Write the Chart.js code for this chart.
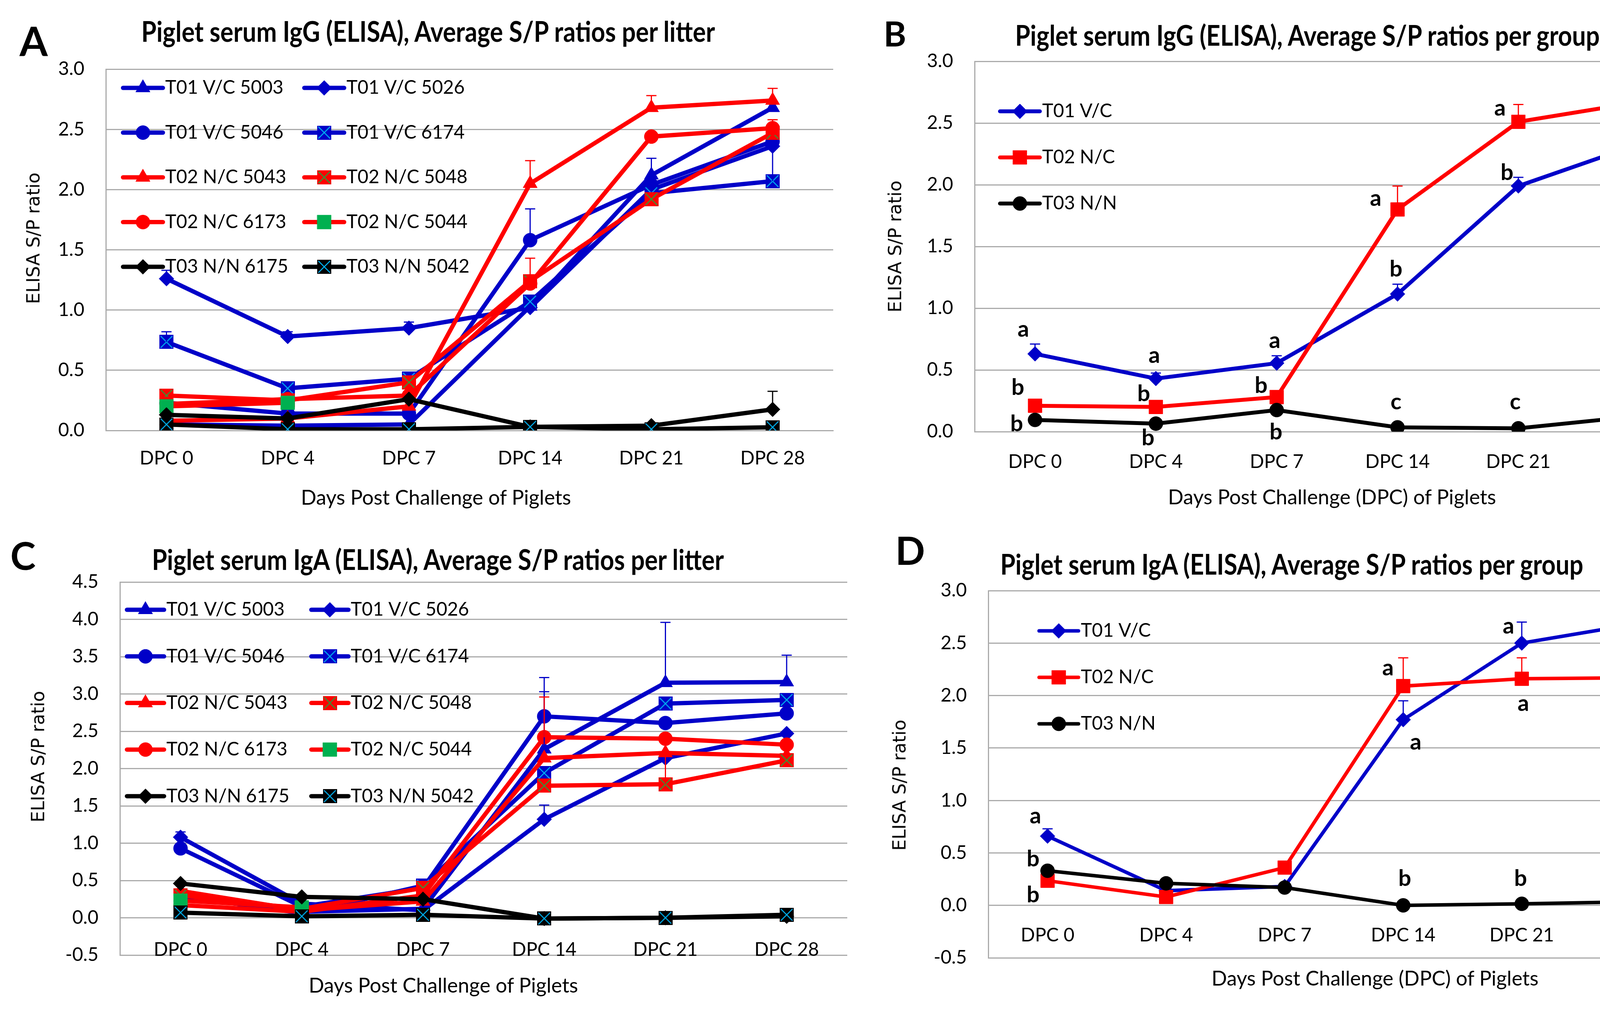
<!DOCTYPE html>
<html><head><meta charset="utf-8">
<script src="https://cdn.jsdelivr.net/npm/chart.js@4.4.1/dist/chart.umd.min.js"></script>
<style>
html,body{margin:0;padding:0;background:#fff;}
#page{position:relative;width:4394px;height:2583px;overflow:hidden;background:#fff;}
canvas{position:absolute;}
.txt{position:absolute;white-space:nowrap;color:#000;transform:translate(-50%,-50%);line-height:1;}
.ttl{font-family:Lato,sans-serif;font-weight:700;transform:translate(-50%,-50%) scaleY(1.15);}
.pl{font-family:Lato,sans-serif;font-weight:700;}
.xt{font-family:Lato,sans-serif;}
.yt{font-family:'DejaVu Sans',sans-serif;transform:translate(-50%,-50%) rotate(-90deg);}
</style></head>
<body><div id="page"></div>
<script>
// ---------------- DATA ----------------
const categories = ['DPC 0','DPC 4','DPC 7','DPC 14','DPC 21','DPC 28'];
const litterLabels = ['T01 V/C 5003','T01 V/C 5026','T01 V/C 5046','T01 V/C 6174','T02 N/C 5043','T02 N/C 5048','T02 N/C 6173','T02 N/C 5044','T03 N/N 6175','T03 N/N 5042'];
const groupLabels = ['T01 V/C','T02 N/C','T03 N/N'];

// Panel A: IgG per litter
const igG_5003 = [0.05, 0.04, 0.05, 1.03, 2.12, 2.68];
const igG_5026 = [1.26, 0.78, 0.85, 1.02, 2.00, 2.36];
const igG_5046 = [0.23, 0.14, 0.14, 1.58, 2.04, 2.40];
const igG_6174 = [0.735, 0.35, 0.43, 1.07, 1.97, 2.07];
const igG_5043 = [0.08, 0.10, 0.20, 2.05, 2.68, 2.74];
const igG_5048 = [0.29, 0.25, 0.40, 1.24, 1.92, 2.47];
const igG_6173 = [0.22, 0.26, 0.29, 1.22, 2.44, 2.51];
const igG_5044 = [0.20, 0.23, null, null, null, null];
const igG_6175 = [0.13, 0.10, 0.26, 0.03, 0.04, 0.175];
const igG_5042 = [0.05, 0.01, 0.01, 0.03, 0.01, 0.027];
const igGErr_5003 = [0, 0, 0, 0, 0.14, 0];
const igGErr_5026 = [0.07, 0.04, 0.05, 0, 0, 0];
const igGErr_5046 = [0, 0, 0, 0.26, 0, 0];
const igGErr_6174 = [0.085, 0, 0, 0, 0, 0.29];
const igGErr_5043 = [0, 0, 0, 0.19, 0.10, 0.10];
const igGErr_5048 = [0, 0, 0, 0.19, 0, 0];
const igGErr_6173 = [0, 0, 0, 0, 0, 0.07];
const igGErr_6175 = [0, 0, 0, 0, 0, 0.15];

// Panel B: IgG per group
const igGGroup_T01 = [0.63, 0.43, 0.555, 1.115, 1.99, 2.33];
const igGGroup_T02 = [0.21, 0.20, 0.28, 1.80, 2.51, 2.67];
const igGGroup_T03 = [0.095, 0.065, 0.175, 0.035, 0.027, 0.127];
const igGGroupErr_T01 = [0.08, 0.045, 0.06, 0.08, 0.07, 0.09];
const igGGroupErr_T02 = [0.02, 0.05, 0.02, 0.19, 0.14, 0.08];
const igGGroupErr_T03 = [0.01, 0.01, 0.01, 0.01, 0.01, 0.10];
const igGLetters_T01 = ['a','a','a','b','b','a'];
const igGLetters_T02 = ['b','b','b','a','a','a'];
const igGLetters_T03 = ['b','b','b','c','c','b'];

// Panel C: IgA per litter
const igA_5003 = [0.28, 0.08, 0.12, 2.26, 3.15, 3.16];
const igA_5026 = [1.08, 0.19, 0.10, 1.32, 2.14, 2.47];
const igA_5046 = [0.93, 0.15, 0.40, 2.70, 2.61, 2.74];
const igA_6174 = [0.30, 0.06, 0.43, 1.94, 2.87, 2.92];
const igA_5043 = [0.36, 0.10, 0.22, 2.14, 2.21, 2.17];
const igA_5048 = [0.30, 0.12, 0.40, 1.77, 1.79, 2.11];
const igA_6173 = [0.17, 0.08, 0.30, 2.42, 2.40, 2.32];
const igA_5044 = [0.23, 0.14, null, null, null, null];
const igA_6175 = [0.46, 0.28, 0.25, -0.01, 0.00, 0.02];
const igA_5042 = [0.07, 0.02, 0.04, -0.01, 0.00, 0.04];
const igAErr_5003 = [0, 0, 0, 0.77, 0.81, 0.36];
const igAErr_5026 = [0.07, 0, 0, 0.19, 0, 0];
const igAErr_5046 = [0, 0, 0, 0.52, 0, 0];
const igAErr_5048 = [0, 0, 0, 0, 0.60, 0];
const igAErr_6173 = [0, 0, 0, 0.54, 0, 0];

// Panel D: IgA per group
const igAGroup_T01 = [0.66, 0.14, 0.18, 1.77, 2.50, 2.69];
const igAGroup_T02 = [0.235, 0.08, 0.36, 2.09, 2.16, 2.17];
const igAGroup_T03 = [0.33, 0.21, 0.17, 0.00, 0.015, 0.035];
const igAGroupErr_T01 = [0.07, 0, 0, 0.18, 0.20, 0.14];
const igAGroupErr_T02 = [0, 0, 0, 0.27, 0.20, 0.16];
const igALetters_T01 = ['a','','','a','a','a'];
const igALetters_T02 = ['b','','','a','a','a'];
const igALetters_T03 = ['b','','','b','b','b'];

// ---------------- STYLE / LAYOUT ----------------
const BLUE = '#0000c8', RED = '#ff0000', BLACK = '#000000', GREEN = '#00b050', CYAN = '#00b0f0', XGREEN = '#2e9a3a';
const GRID = '#ababab';
const FONT = 'Lato';

function makeXSquare(fill, xColor, side){
  const c = document.createElement('canvas');
  c.width = side; c.height = side;
  const g = c.getContext('2d');
  g.fillStyle = fill; g.fillRect(0,0,side,side);
  g.strokeStyle = xColor; g.lineWidth = 2.5;
  g.beginPath(); g.moveTo(3,3); g.lineTo(side-3,side-3); g.moveTo(side-3,3); g.lineTo(3,side-3); g.stroke();
  return c;
}
const blueX = makeXSquare(BLUE, CYAN, 36);
const redX = makeXSquare(RED, XGREEN, 36);
const blackX = makeXSquare(BLACK, CYAN, 36);

const litterStyles = [
  {color:BLUE, point:'triangle', r:21},
  {color:BLUE, point:'rectRot', r:19},
  {color:BLUE, point:'circle', r:18},
  {color:BLUE, point:blueX, r:18},
  {color:RED, point:'triangle', r:21},
  {color:RED, point:redX, r:18},
  {color:RED, point:'circle', r:18},
  {color:RED, point:'rect', r:25, pointColor:GREEN},
  {color:BLACK, point:'rectRot', r:19},
  {color:BLACK, point:blackX, r:18}
];
const groupStyles = [
  {color:BLUE, point:'rectRot', r:19},
  {color:RED, point:'rect', r:25},
  {color:BLACK, point:'circle', r:18}
];

// letter offsets (pixels from the point) for panels B and D
const bLetterOffsets = [
  [[-30,-63],[-4,-59],[-5,-57],[-4,-63],[-29,-34],[64,10]],
  [[-44,-46],[-31,-34],[-40,-29],[-56,-28],[-47,-35],[-6,-61]],
  [[-47,10],[-20,37],[-2,57],[-4,-65],[-8,-67],[19,-73]]
];
const dLetterOffsets = [
  [[-31,-51],[0,0],[0,0],[32,58],[-34,-43],[-30,-31]],
  [[-37,37],[0,0],[0,0],[-39,-46],[4,64],[16,72]],
  [[-37,-30],[0,0],[0,0],[4,-68],[-3,-64],[-1,-63]]
];

function buildDatasets(seriesList, labels, styles, errs, lineWidth, letters, offsets){
  const n = seriesList.length;
  return seriesList.map((vals, i) => {
    const s = styles[i];
    const ds = {
      label: labels[i], data: vals,
      borderColor: s.color, backgroundColor: s.color,
      borderWidth: lineWidth, tension: 0, spanGaps: false,
      pointStyle: s.point, pointRadius: s.r, pointHoverRadius: s.r,
      pointBackgroundColor: s.pointColor || s.color, pointBorderColor: s.pointColor || s.color,
      pointBorderWidth: 1, order: n - i
    };
    if (errs && errs[i]) ds.errUp = errs[i];
    if (letters && letters[i]) { ds.sigLetters = letters[i]; ds.sigOffsets = offsets[i]; }
    return ds;
  });
}

const errorBarPlugin = {
  id: 'errorBars',
  afterDatasetsDraw(chart){
    const ctx = chart.ctx, ys = chart.scales.y;
    chart.data.datasets.forEach((ds, di) => {
      if (!ds.errUp) return;
      const meta = chart.getDatasetMeta(di);
      ctx.save(); ctx.strokeStyle = ds.borderColor; ctx.lineWidth = 3;
      ds.errUp.forEach((e, i) => {
        const v = ds.data[i];
        if (v == null || !e) return;
        const x = meta.data[i].x, y0 = ys.getPixelForValue(v), y1 = ys.getPixelForValue(v + e);
        ctx.beginPath(); ctx.moveTo(x, y0); ctx.lineTo(x, y1);
        ctx.moveTo(x - 13, y1); ctx.lineTo(x + 13, y1); ctx.stroke();
      });
      ctx.restore();
    });
  }
};
const letterPlugin = {
  id: 'sigLetters',
  afterDatasetsDraw(chart){
    const ctx = chart.ctx;
    ctx.save();
    ctx.font = 'bold 58px ' + FONT; ctx.fillStyle = '#000';
    ctx.textAlign = 'center'; ctx.textBaseline = 'middle';
    chart.data.datasets.forEach((ds, di) => {
      if (!ds.sigLetters) return;
      const meta = chart.getDatasetMeta(di);
      ds.sigLetters.forEach((t, i) => {
        if (!t) return;
        const p = meta.data[i]; const o = ds.sigOffsets[i];
        ctx.fillText(t, p.x + o[0], p.y + o[1]);
      });
    });
    ctx.restore();
  }
};
const legendPlugin = {
  id: 'plotLegend',
  afterDraw(chart, args, opts){
    const ctx = chart.ctx;
    ctx.save();
    ctx.font = '48px ' + FONT; ctx.textBaseline = 'middle'; ctx.textAlign = 'left'; ctx.fillStyle = '#000';
    chart.data.datasets.forEach((ds, i) => {
      const col = i % opts.cols.length, row = Math.floor(i / opts.cols.length);
      const x = opts.cols[col] - opts.ox, y = opts.y0 + row * opts.dy - opts.oy;
      ctx.strokeStyle = ds.borderColor; ctx.lineWidth = ds.borderWidth; ctx.lineCap = 'round';
      ctx.beginPath(); ctx.moveTo(x, y); ctx.lineTo(x + opts.len, y); ctx.stroke();
      ctx.fillStyle = ds.pointBackgroundColor; ctx.strokeStyle = ds.pointBorderColor; ctx.lineWidth = 1;
      Chart.helpers.drawPoint(ctx, {pointStyle: ds.pointStyle, rotation: 0, radius: ds.pointRadius, borderWidth: 1}, x + opts.len / 2, y);
      ctx.fillStyle = '#000';
      ctx.fillText(ds.label, x + opts.len + 6, y);
    });
    ctx.restore();
  }
};

const page = document.getElementById('page');
function makeChart(p){
  const cv = document.createElement('canvas');
  cv.width = p.box.w; cv.height = p.box.h;
  cv.style.left = p.box.x + 'px'; cv.style.top = p.box.y + 'px';
  cv.style.width = p.box.w + 'px'; cv.style.height = p.box.h + 'px';
  page.appendChild(cv);
  const yW = 150, xH = p.atZero ? 0 : 150;
  const a = p.area;
  new Chart(cv, {
    type: 'line',
    data: {labels: categories, datasets: p.datasets},
    options: {
      responsive: false, animation: false, devicePixelRatio: 1,
      layout: {padding: {left: a.l - p.box.x - yW, top: a.t - p.box.y, right: p.box.x + p.box.w - a.r, bottom: p.box.y + p.box.h - a.b - xH}},
      plugins: {legend: {display: false}, tooltip: {enabled: false},
        plotLegend: Object.assign({ox: p.box.x, oy: p.box.y}, p.legend)},
      scales: {
        x: {type: 'category', offset: true, position: p.atZero ? {y: 0} : 'bottom',
          grid: {display: false, drawTicks: false},
          border: {display: !p.atZero, color: GRID, width: 3},
          ticks: {font: {family: FONT, size: 48}, color: '#000', padding: p.xPad, autoSkip: false, maxRotation: 0},
          afterFit(s){ s.height = xH; }},
        y: {min: p.yMin, max: p.yMax,
          ticks: {stepSize: 0.5, callback: v => v.toFixed(1), padding: 55, font: {family: FONT, size: 48}, color: '#000'},
          grid: {color: GRID, lineWidth: 3, drawTicks: false},
          border: {display: true, color: GRID, width: 3},
          afterFit(s){ s.width = yW; }}
      }
    },
    plugins: [errorBarPlugin, letterPlugin, legendPlugin]
  });
}

function addText(text, cls, x, y, size, target){
  const el = document.createElement('div');
  el.className = 'txt ' + cls; el.textContent = text;
  el.style.left = x + 'px'; el.style.top = y + 'px'; el.style.fontSize = size + 'px';
  page.appendChild(el);
  if (target) { const w = el.offsetWidth; el.style.fontSize = (size * target / w) + 'px'; }
}

// Panel A
makeChart({
  box: {x:0, y:0, w:2197, h:1300}, area: {l:271, t:177, r:2133, b:1102},
  yMin: 0, yMax: 3, atZero: false, xPad: 43,
  datasets: buildDatasets([igG_5003, igG_5026, igG_5046, igG_6174, igG_5043, igG_5048, igG_6173, igG_5044, igG_6175, igG_5042],
    litterLabels, litterStyles,
    [igGErr_5003, igGErr_5026, igGErr_5046, igGErr_6174, igGErr_5043, igGErr_5048, igGErr_6173, null, igGErr_6175, null], 11),
  legend: {cols: [315, 779], len: 102, y0: 225, dy: 114.5}
});
// Panel B
makeChart({
  box: {x:2197, y:0, w:2197, h:1300}, area: {l:2495, t:157, r:4351, b:1105},
  yMin: 0, yMax: 3, atZero: false, xPad: 49,
  datasets: buildDatasets([igGGroup_T01, igGGroup_T02, igGGroup_T03], groupLabels, groupStyles,
    [igGGroupErr_T01, igGGroupErr_T02, igGGroupErr_T03], 10,
    [igGLetters_T01, igGLetters_T02, igGLetters_T03], bLetterOffsets),
  legend: {cols: [2560], len: 102, y0: 285, dy: 118}
});
// Panel C
makeChart({
  box: {x:0, y:1300, w:2197, h:1283}, area: {l:307, t:1490, r:2169, b:2445},
  yMin: -0.5, yMax: 4.5, atZero: true, xPad: 53,
  datasets: buildDatasets([igA_5003, igA_5026, igA_5046, igA_6174, igA_5043, igA_5048, igA_6173, igA_5044, igA_6175, igA_5042],
    litterLabels, litterStyles,
    [igAErr_5003, igAErr_5026, igAErr_5046, null, null, igAErr_5048, igAErr_6173, null, null, null], 11),
  legend: {cols: [325, 797], len: 95, y0: 1561, dy: 119.3}
});
// Panel D
makeChart({
  box: {x:2197, y:1300, w:2197, h:1283}, area: {l:2530, t:1512, r:4351, b:2452},
  yMin: -0.5, yMax: 3, atZero: true, xPad: 48,
  datasets: buildDatasets([igAGroup_T01, igAGroup_T02, igAGroup_T03], groupLabels, groupStyles,
    [igAGroupErr_T01, igAGroupErr_T02, null], 9,
    [igALetters_T01, igALetters_T02, igALetters_T03], dLetterOffsets),
  legend: {cols: [2660], len: 101, y0: 1615, dy: 119}
});

// Text
addText('A', 'pl', 86, 103, 104);
addText('B', 'pl', 2291, 85, 88);
addText('C', 'pl', 59, 1421, 98);
addText('D', 'pl', 2330, 1407, 100);
addText('Piglet serum IgG (ELISA), Average S/P ratios per litter', 'ttl', 1096, 80, 52, 1469);
addText('Piglet serum IgG (ELISA), Average S/P ratios per group', 'ttl', 3347, 90, 52, 1497);
addText('Piglet serum IgA (ELISA), Average S/P ratios per litter', 'ttl', 1121, 1432, 52, 1465);
addText('Piglet serum IgA (ELISA), Average S/P ratios per group', 'ttl', 3307, 1444, 52, 1493);
addText('Days Post Challenge of Piglets', 'xt', 1116, 1272, 48, 692);
addText('Days Post Challenge (DPC) of Piglets', 'xt', 3410, 1271, 48, 840);
addText('Days Post Challenge of Piglets', 'xt', 1135, 2521, 48, 690);
addText('Days Post Challenge (DPC) of Piglets', 'xt', 3520, 2503, 48, 837);
addText('ELISA S/P ratio', 'yt', 86, 610, 46, 337);
addText('ELISA S/P ratio', 'yt', 2291, 631, 46, 338);
addText('ELISA S/P ratio', 'yt', 98, 1937, 46, 337);
addText('ELISA S/P ratio', 'yt', 2303, 2010, 46, 336);
</script>
</body></html>
